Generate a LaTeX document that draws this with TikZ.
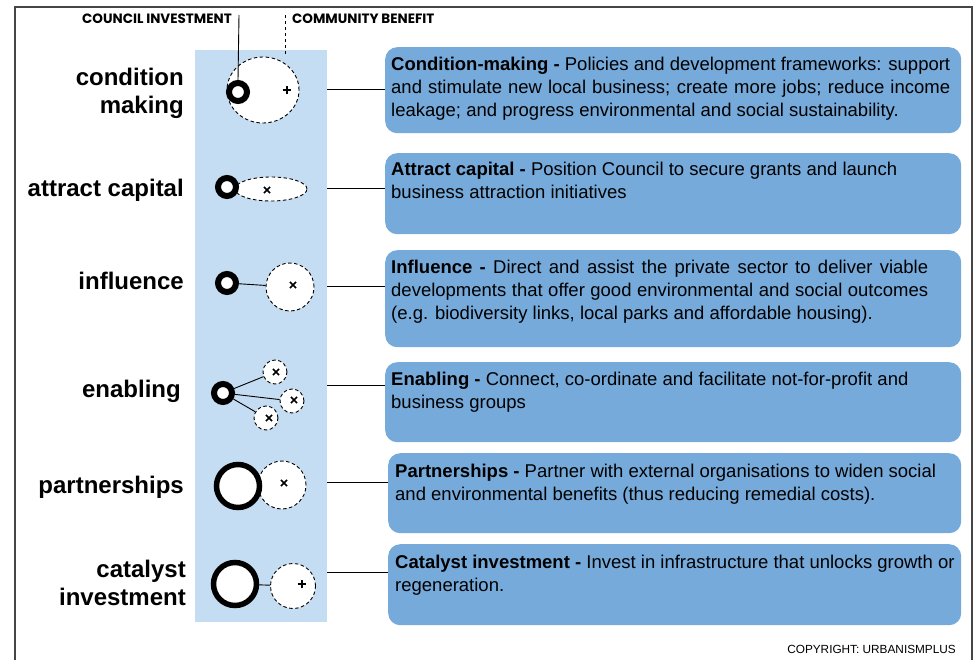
\documentclass[tikz,border=0pt]{standalone}
\usepackage{fontspec}
\setmainfont{Liberation Sans}
\newfontfamily\headfont{Poppins}
\usetikzlibrary{shapes.geometric,shapes.misc}

\definecolor{stripblue}{RGB}{197,221,242}
\definecolor{boxblue}{RGB}{118,170,219}
\definecolor{framegray}{RGB}{70,70,70}

\tikzset{
  descbox/.style={draw=none, fill=boxblue, rounded corners=12pt, anchor=north west, inner sep=0pt},
  desctext/.style={anchor=base west, inner sep=0pt, align=left, font=\fontsize{18.5}{23}\selectfont},
  justtext/.style={desctext, align=justify, text width=#1},
  rowlabel/.style={anchor=base east, inner sep=0pt, align=right, font=\fontsize{24}{28}\selectfont\bfseries},
  headlabel/.style={anchor=base west, inner sep=0pt, font=\headfont\bfseries\fontsize{13.5}{16}\selectfont},
  invest/.style={circle, draw, fill=white, line width=6pt, inner sep=0pt, minimum size=18pt},
  biginvest/.style={circle, draw, fill=white, line width=5.5pt, inner sep=0pt, minimum size=43pt},
  benefit/.style={circle, draw, fill=white, line width=0.9pt, dash pattern=on 3.5pt off 2.5pt, inner sep=0pt},
  oval/.style={ellipse, draw, fill=white, line width=0.9pt, dash pattern=on 3.5pt off 2.5pt, inner sep=0pt},
  xmark/.style={cross out, draw, line width=1.6pt, inner sep=0pt, minimum size=4.5pt},
  plusmark/.style={xmark, rotate=45},
  link/.style={line width=0.9pt}
}

\begin{document}
\begin{tikzpicture}[x=1pt,y=-1pt]
\useasboundingbox (0,0) rectangle (979,660);
\draw[framegray, line width=1.4pt] (15,660) -- (15,7) -- (972,7) -- (972,660);

\node[fill=stripblue, anchor=north west, minimum width=132pt, minimum height=572pt, inner sep=0pt] (strip) at (195,50) {};

% header
\node[headlabel] (hinv) at (82,24) {COUNCIL INVESTMENT};
\node[headlabel] (hben) at (292,24) {COMMUNITY BENEFIT};

% row labels (base = last line)
\node[rowlabel] (l1) at (184,114) {condition\\making};
\node[rowlabel] (l2) at (184,197) {attract capital};
\node[rowlabel] (l3) at (184,289) {influence};
\node[rowlabel] (l4) at (181,397) {enabling};
\node[rowlabel] (l5) at (184,493) {partnerships};
\node[rowlabel] (l6) at (186,605) {catalyst\\investment};

% icons
\node[oval, minimum width=72pt, minimum height=66pt] (b1) at (263,90) {};
\node[invest] (r1) at (238,92) {};
\node[plusmark] (m1) at (287,90) {};
\coordinate (top1) at (239,15);
\coordinate (top2) at (285,15);
\draw[link] (top1) -- (r1.north);
\draw[link, dash pattern=on 3.5pt off 2.5pt] (top2) -- (top2 |- b1.north);

\node[oval, minimum width=72pt, minimum height=24pt] (b2) at (271,189) {};
\node[invest] (r2) at (227,187) {};
\node[xmark] (m2) at (267,190) {};

\node[invest] (r3) at (227,283) {};
\node[benefit, minimum size=48pt] (b3) at (290,287) {};
\node[xmark] (m3) at (293,285) {};
\draw[link] (r3) -- (b3);

\node[invest] (r4) at (223,393) {};
\node[benefit, minimum size=24pt] (b4a) at (275,372) {};
\node[benefit, minimum size=24pt] (b4b) at (292,401) {};
\node[benefit, minimum size=24pt] (b4c) at (266,418) {};
\node[xmark] (m4a) at (276,372) {};
\node[xmark] (m4b) at (294,400) {};
\node[xmark] (m4c) at (269,418) {};
\draw[link] (r4) -- (b4a);
\draw[link] (r4) -- (b4b);
\draw[link] (r4) -- (b4c);

\node[benefit, minimum size=48pt] (b5) at (282,485) {};
\node[biginvest] (r5) at (238,486) {};
\node[xmark] (m5) at (284,483) {};

\node[biginvest] (r6) at (235,584) {};
\node[benefit, minimum size=45pt] (b6) at (293,586) {};
\node[plusmark] (m6) at (302,584) {};
\draw[link] (r6) -- (b6);

% description boxes
\node[descbox, minimum width=576pt, minimum height=86pt] (d1) at (385,47) {};
\node[descbox, minimum width=576pt, minimum height=81pt] (d2) at (385,153) {};
\node[descbox, minimum width=576pt, minimum height=97pt] (d3) at (385,250) {};
\node[descbox, minimum width=576pt, minimum height=80pt] (d4) at (385,362) {};
\node[descbox, minimum width=573pt, minimum height=80pt] (d5) at (388,453) {};
\node[descbox, minimum width=573pt, minimum height=81pt] (d6) at (388,544) {};

\node[justtext=559pt] (t1) at (391,71) {\textbf{Condition-making -} Policies and development frameworks: support\linebreak and stimulate new local business; create more jobs; reduce income\linebreak leakage; and progress environmental and social sustainability.};
\node[desctext] (t2) at (391,199) {\textbf{Attract capital -} Position Council to secure grants and launch\\business attraction initiatives};
\node[justtext=537pt] (t3) at (391,273) {\textbf{Influence -} Direct and assist the private sector to deliver viable\linebreak developments that offer good environmental and social outcomes\linebreak (e.g. biodiversity links, local parks and affordable housing).};
\node[desctext] (t4) at (391,408) {\textbf{Enabling -} Connect, co-ordinate and facilitate not-for-profit and\\business groups};
\node[desctext] (t5) at (395,500) {\textbf{Partnerships -} Partner with external organisations to widen social\\and environmental benefits (thus reducing remedial costs).};
\node[desctext] (t6) at (395,591) {\textbf{Catalyst investment -} Invest in infrastructure that unlocks growth or\\regeneration.};

% connectors
\coordinate (j1) at (385,89);
\coordinate (j2) at (385,188);
\coordinate (j3) at (385,286);
\coordinate (j4) at (385,385);
\coordinate (j5) at (388,482);
\coordinate (j6) at (388,572);
\foreach \j in {1,...,6}
  \draw[link] (strip.east |- j\j) -- (j\j);

\node[anchor=base east, inner sep=0pt, font=\fontsize{11.8}{14}\selectfont] (copy) at (956,653) {COPYRIGHT: URBANISMPLUS};
\end{tikzpicture}
\end{document}
